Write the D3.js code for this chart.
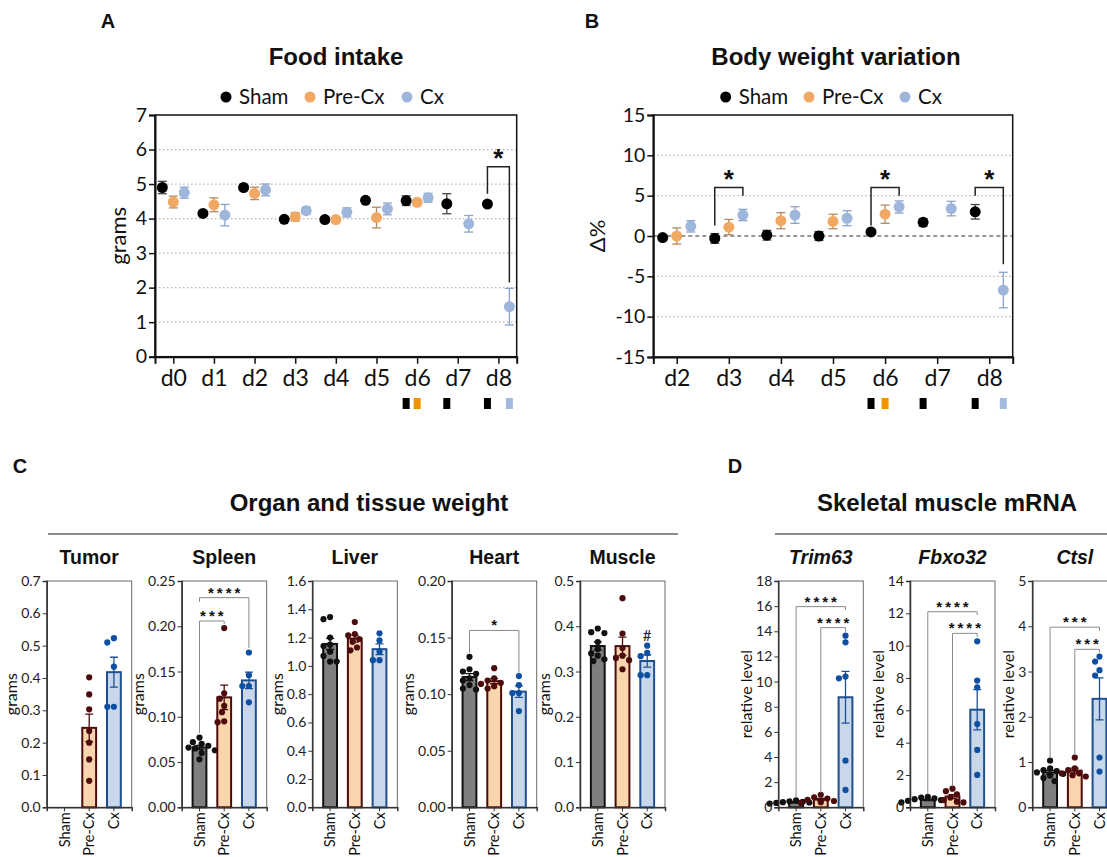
<!DOCTYPE html>
<html>
<head>
<meta charset="utf-8">
<script src="https://cdn.jsdelivr.net/npm/d3@7"></script>
<style>
  body { margin: 0; background: #fff; }
  svg { display: block; font-family: Lato, 'Open Sans', sans-serif; }
  .hd { font-family: 'Liberation Sans', Arial, sans-serif; font-weight: bold; fill: #111; }
</style>
</head>
<body>
<svg></svg>
<script>
// ---------- data ----------
const groups = ['Sham', 'Pre-Cx', 'Cx'];

// A: food intake (grams), mean and SEM per day
const foodDays = ['d0', 'd1', 'd2', 'd3', 'd4', 'd5', 'd6', 'd7', 'd8'];
const foodSham = [4.9, 4.15, 4.9, 3.98, 3.97, 4.53, 4.52, 4.43, 4.42];
const foodShamErr = [0.18, 0.05, 0.05, 0.06, 0.07, 0.07, 0.14, 0.29, 0.06];
const foodPre = [4.48, 4.4, 4.73, 4.05, 3.97, 4.03, 4.47, null, null];
const foodPreErr = [0.17, 0.2, 0.18, 0.12, 0.04, 0.3, 0.06, null, null];
const foodCx = [4.75, 4.1, 4.83, 4.23, 4.18, 4.28, 4.6, 3.85, 1.45];
const foodCxErr = [0.16, 0.31, 0.17, 0.1, 0.13, 0.17, 0.13, 0.24, 0.53];
// [day, group1, group2, bracket level, leg1 end, leg2 end]
const foodBrackets = [['d8', 'Sham', 'Cx', 5.5, 4.72, 2.15]];
const foodMarks = [['d6', 'Sham'], ['d6', 'Pre-Cx'], ['d7', 'Sham'], ['d8', 'Sham'], ['d8', 'Cx']];

// B: body weight variation (%)
const weightDays = ['d2', 'd3', 'd4', 'd5', 'd6', 'd7', 'd8'];
const weightSham = [-0.2, -0.3, 0.1, 0.0, 0.5, 1.7, 3.0];
const weightShamErr = [0.3, 0.6, 0.6, 0.55, 0.25, 0.45, 0.9];
const weightPre = [0.0, 1.1, 1.9, 1.8, 2.7, null, null];
const weightPreErr = [1.0, 0.95, 1.0, 0.9, 1.13, null, null];
const weightCx = [1.2, 2.6, 2.6, 2.2, 3.6, 3.4, -6.7];
const weightCxErr = [0.7, 0.7, 1.03, 0.93, 0.75, 0.9, 2.2];
const weightBrackets = [
  ['d3', 'Sham', 'Cx', 6.0, 1.3, 5.0],
  ['d6', 'Sham', 'Cx', 6.0, 1.3, 5.0],
  ['d8', 'Sham', 'Cx', 6.0, 5.0, -3.5]
];
const weightMarks = foodMarks;

// C: organ and tissue weight (grams), one value per animal
const tumorSham = [];
const tumorPre = [0.402, 0.349, 0.303, 0.236, 0.2, 0.148, 0.082];
const tumorCx = [0.523, 0.51, 0.435, 0.311, 0.311];
const spleenSham = [0.077, 0.072, 0.07, 0.068, 0.066, 0.065, 0.063, 0.06, 0.053];
const spleenPre = [0.198, 0.126, 0.12, 0.112, 0.105, 0.095, 0.094];
const spleenCx = [0.171, 0.146, 0.134, 0.134, 0.116];
const liverSham = [1.345, 1.33, 1.2, 1.15, 1.14, 1.1, 1.07, 1.03, 1.03];
const liverPre = [1.31, 1.225, 1.215, 1.19, 1.17, 1.13, 1.11];
const liverCx = [1.23, 1.18, 1.1, 1.04, 1.04];
const heartSham = [0.133, 0.122, 0.12, 0.118, 0.114, 0.112, 0.108, 0.105, 0.104];
const heartPre = [0.123, 0.114, 0.112, 0.11, 0.109, 0.107, 0.105];
const heartCx = [0.116, 0.108, 0.101, 0.101, 0.085];
const muscleSham = [0.395, 0.387, 0.385, 0.365, 0.35, 0.34, 0.335, 0.327, 0.323];
const musclePre = [0.462, 0.384, 0.352, 0.335, 0.33, 0.325, 0.305];
const muscleCx = [0.357, 0.341, 0.334, 0.292, 0.292];

// D: skeletal muscle mRNA (relative level)
const trimSham = [0.55, 0.48, 0.44, 0.41, 0.38, 0.35, 0.33, 0.3, 0.27];
const trimPre = [1.0, 0.8, 0.7, 0.6, 0.5, 0.4, 0.35];
const trimCx = [13.65, 13.12, 10.4, 10.26, 3.71, 1.38];
const fbxSham = [0.65, 0.6, 0.55, 0.5, 0.45, 0.4, 0.35, 0.3, 0.3];
const fbxPre = [1.15, 1.0, 0.8, 0.6, 0.45, 0.35, 0.3];
const fbxCx = [10.27, 7.84, 7.42, 5.15, 3.55, 2.0];
const ctslSham = [1.03, 0.86, 0.82, 0.8, 0.77, 0.74, 0.7, 0.65, 0.58];
const ctslPre = [1.1, 0.86, 0.82, 0.75, 0.75, 0.71, 0.68];
const ctslCx = [3.33, 3.22, 3.03, 2.91, 1.1, 0.79];

// [group1, group2, level, leg1 end, leg2 end, label]
const spleenSig = [['Sham', 'Pre-Cx', 0.2058, 0.082, 0.2025, '***'], ['Sham', 'Cx', 0.2316, 0.2268, 0.176, '****']];
const heartSig = [['Sham', 'Cx', 0.1563, 0.1365, 0.1188, '*']];
const trimSig = [['Sham', 'Cx', 15.96, 0.75, 15.7, '****'], ['Pre-Cx', 'Cx', 14.29, 1.15, 13.97, '****']];
const fbxSig = [['Sham', 'Cx', 12.1, 0.8, 11.9, '****'], ['Pre-Cx', 'Cx', 10.76, 1.3, 10.56, '****']];
const ctslSig = [['Sham', 'Cx', 3.98, 1.08, 3.9, '***'], ['Pre-Cx', 'Cx', 3.49, 1.16, 3.42, '***']];

// ---------- styles ----------
const dotColor = { Sham: '#000', 'Pre-Cx': '#f0a862', Cx: '#9fb6dc' };
const errColor = { Sham: '#444', 'Pre-Cx': '#b08a66', Cx: '#8aa2cc' };
const markColor = { Sham: '#000', 'Pre-Cx': '#f39200', Cx: '#a4badf' };
const barFill = { Sham: '#7f7f7f', 'Pre-Cx': '#f8d5ad', Cx: '#c9d7eb' };
const barStroke = { Sham: '#111', 'Pre-Cx': '#4d0b0b', Cx: '#1f4f8f' };
const barDot = { Sham: '#111', 'Pre-Cx': '#4d0b0b', Cx: '#0d4fa0' };

const svg = d3.select('svg').attr('width', 1107).attr('height', 857);

function txt(x, y, s, size, cls, anchor) {
  return svg.append('text').attr('x', x).attr('y', y).attr('class', cls || null)
    .attr('text-anchor', anchor || 'middle').style('font-size', size + 'px').text(s);
}

// ---------- A / B : dot plots over days ----------
function dayPanel(o) {
  const x = d3.scalePoint().domain(o.days).range([o.left, o.right]).padding(0.45);
  const y = d3.scaleLinear().domain(o.yDomain).range([o.bottom, o.top]);
  const off = x.step() * 0.27;
  const gx = (day, grp) => x(day) + (grp === 'Sham' ? -off : grp === 'Cx' ? off : 0);
  const g = svg.append('g');

  g.selectAll('line.grid').data(o.grid).join('line')
    .attr('x1', o.left).attr('x2', o.right).attr('y1', y).attr('y2', y)
    .attr('stroke', '#b5b5b5').attr('stroke-width', 1.2).attr('stroke-dasharray', '1.5,2.5');
  if (o.zero) {
    g.append('line').attr('x1', o.left).attr('x2', o.right).attr('y1', y(0)).attr('y2', y(0))
      .attr('stroke', '#777').attr('stroke-width', 1.5).attr('stroke-dasharray', '4,3');
  }

  g.append('rect').attr('x', o.left).attr('y', o.top).attr('width', o.right - o.left)
    .attr('height', o.bottom - o.top).attr('fill', 'none').attr('stroke', '#111').attr('stroke-width', 1.5);

  const ya = g.append('g').attr('transform', `translate(${o.left},0)`)
    .call(d3.axisLeft(y).tickValues(o.yTicks).tickFormat((d) => String(d)).tickSize(6).tickPadding(2));
  const xa = g.append('g').attr('transform', `translate(0,${o.bottom})`)
    .call(d3.axisBottom(x).tickSize(7).tickPadding(6));
  [ya, xa].forEach((a) => {
    a.select('.domain').attr('stroke', '#111').attr('stroke-width', 2);
    a.selectAll('.tick line').attr('stroke', '#111').attr('stroke-width', 1.5);
    a.selectAll('text').attr('fill', '#111').style('font-family', 'Lato, sans-serif');
  });
  ya.selectAll('text').style('font-size', '19.5px');
  xa.selectAll('text').style('font-size', '23px');

  const bb = ya.node().getBBox();
  g.append('text').attr('transform', `translate(${o.left + bb.x - 10},${(o.top + o.bottom) / 2}) rotate(-90)`)
    .attr('text-anchor', 'middle').style('font-size', '22px').attr('fill', '#111').text(o.yLabel);

  o.series.forEach((s) => {
    const pts = o.days.map((d, i) => ({ day: d, m: s.mean[i], e: s.err[i] })).filter((p) => p.m != null);
    const sg = g.append('g');
    pts.forEach((p) => {
      const cx = gx(p.day, s.name);
      sg.append('line').attr('x1', cx).attr('x2', cx).attr('y1', y(p.m - p.e)).attr('y2', y(p.m + p.e))
        .attr('stroke', errColor[s.name]).attr('stroke-width', 1.3);
      [p.m - p.e, p.m + p.e].forEach((v) => {
        sg.append('line').attr('x1', cx - 4.5).attr('x2', cx + 4.5).attr('y1', y(v)).attr('y2', y(v))
          .attr('stroke', errColor[s.name]).attr('stroke-width', 1.3);
      });
    });
    sg.selectAll('circle').data(pts).join('circle')
      .attr('cx', (p) => gx(p.day, s.name)).attr('cy', (p) => y(p.m)).attr('r', 5.5)
      .attr('fill', dotColor[s.name]);
  });

  o.brackets.forEach(([day, a, b, lev, e1, e2]) => {
    const x1 = gx(day, a), x2 = gx(day, b);
    g.append('path').attr('d', `M${x1},${y(e1)}V${y(lev)}H${x2}V${y(e2)}`)
      .attr('fill', 'none').attr('stroke', '#222').attr('stroke-width', 1.5);
    g.append('text').attr('class', 'hd').attr('x', (x1 + x2) / 2).attr('y', y(lev))
      .attr('text-anchor', 'middle').style('font-size', '26px').text('*');
  });

  g.selectAll('rect.mark').data(o.marks).join('rect').attr('class', 'mark')
    .attr('x', (d) => gx(d[0], d[1]) - 3.5).attr('y', 398).attr('width', 7).attr('height', 11)
    .attr('fill', (d) => markColor[d[1]]);

  // legend
  groups.forEach((grp, i) => {
    const lx = o.legendX[i];
    g.append('circle').attr('cx', lx).attr('cy', 97).attr('r', 5.5).attr('fill', dotColor[grp]);
    g.append('text').attr('x', lx + 13).attr('y', 104).style('font-size', '20.5px').attr('fill', '#111').text(grp);
  });
}

dayPanel({
  days: foodDays, left: 155, right: 516.7, top: 115, bottom: 356.7,
  yDomain: [0, 7], yTicks: d3.range(0, 8), grid: [1, 2, 3, 4, 5, 6], zero: false,
  yLabel: 'grams', legendX: [226, 310, 407],
  series: [
    { name: 'Sham', mean: foodSham, err: foodShamErr },
    { name: 'Pre-Cx', mean: foodPre, err: foodPreErr },
    { name: 'Cx', mean: foodCx, err: foodCxErr }
  ],
  brackets: foodBrackets, marks: foodMarks
});

dayPanel({
  days: weightDays, left: 653.3, right: 1012.7, top: 115, bottom: 357,
  yDomain: [-15, 15], yTicks: d3.range(-15, 16, 5), grid: [-10, -5, 5, 10], zero: true,
  yLabel: 'Δ%', legendX: [725.7, 809, 905],
  series: [
    { name: 'Sham', mean: weightSham, err: weightShamErr },
    { name: 'Pre-Cx', mean: weightPre, err: weightPreErr },
    { name: 'Cx', mean: weightCx, err: weightCxErr }
  ],
  brackets: weightBrackets, marks: weightMarks
});

txt(108, 28, 'A', 20, 'hd');
txt(592, 28, 'B', 20, 'hd');
txt(336, 65, 'Food intake', 24, 'hd');
txt(836, 65, 'Body weight variation', 24, 'hd');

// ---------- C / D : bar + scatter panels ----------
const pTop = 581, pBottom = 807.3, pWidth = 85;

function swarm(vals, y, r) {
  const pts = vals.map((v) => ({ v, py: y(v) })).sort((a, b) => a.py - b.py);
  const placed = [];
  pts.forEach((p) => {
    for (let k = 0; k < 30; k++) {
      const dx = k === 0 ? 0 : (k % 2 ? -1 : 1) * Math.ceil(k / 2) * 2.2;
      if (placed.every((q) => Math.hypot(q.dx - dx, q.py - p.py) >= 2 * r + 0.4)) { p.dx = dx; break; }
    }
    if (p.dx == null) p.dx = 0;
    placed.push(p);
  });
  return pts;
}

function barPanel(o) {
  const y = d3.scaleLinear().domain([0, o.max]).range([pBottom, pTop]);
  const x = d3.scaleBand().domain(groups).range([o.left, o.left + pWidth]).paddingInner(0.36).paddingOuter(0.4);
  const bw = x.bandwidth();
  const g = svg.append('g');

  g.append('rect').attr('x', o.left).attr('y', pTop).attr('width', pWidth).attr('height', pBottom - pTop)
    .attr('fill', 'none').attr('stroke', '#6a6a6a').attr('stroke-width', 1);

  groups.forEach((grp, i) => {
    const vals = o.data[i];
    if (!vals.length) return;
    const m = d3.mean(vals);
    const se = d3.deviation(vals) / Math.sqrt(vals.length);
    const cx = x(grp) + bw / 2;
    g.append('rect').attr('x', x(grp) + 1).attr('width', bw - 2).attr('y', y(m)).attr('height', y(0) - y(m))
      .attr('fill', barFill[grp]).attr('stroke', barStroke[grp]).attr('stroke-width', 2);
    g.append('path').attr('d', `M${cx},${y(m - se)}V${y(m + se)}M${cx - 4},${y(m + se)}H${cx + 4}M${cx - 4},${y(m - se)}H${cx + 4}`)
      .attr('stroke', barStroke[grp]).attr('stroke-width', 1.3).attr('fill', 'none');
    g.selectAll(null).data(swarm(vals, y, 3.1)).join('circle')
      .attr('cx', (p) => cx + p.dx).attr('cy', (p) => p.py).attr('r', 3.1).attr('fill', barDot[grp]);
  });

  const ya = g.append('g').attr('transform', `translate(${o.left},0)`)
    .call(d3.axisLeft(y).tickValues(o.ticks).tickFormat(d3.format(o.fmt)).tickSize(4).tickPadding(2));
  const xa = g.append('g').attr('transform', `translate(0,${pBottom})`)
    .call(d3.axisBottom(x).tickSize(4).tickFormat(''));
  [ya, xa].forEach((a) => {
    a.select('.domain').attr('stroke', '#333').attr('stroke-width', 1.5);
    a.selectAll('.tick line').attr('stroke', '#333');
  });
  ya.selectAll('text').attr('fill', '#222').style('font-size', '14px').style('font-family', 'Lato, sans-serif');

  groups.forEach((grp) => {
    g.append('text').attr('transform', `translate(${x(grp) + bw / 2},${pBottom + 5}) rotate(-90)`)
      .attr('text-anchor', 'end').attr('dy', '0.35em').style('font-size', '14.5px').attr('fill', '#111').text(grp);
  });

  const bb = ya.node().getBBox();
  g.append('text').attr('transform', `translate(${o.left + bb.x - 4},${(pTop + pBottom) / 2}) rotate(-90)`)
    .attr('text-anchor', 'middle').style('font-size', '16px').attr('fill', '#111').text(o.yLabel);

  g.append('text').attr('class', 'hd').attr('x', o.left + pWidth / 2).attr('y', 564)
    .attr('text-anchor', 'middle').style('font-size', '19.5px').style('font-style', o.italic ? 'italic' : 'normal')
    .text(o.title);

  (o.sig || []).forEach(([a, b, lev, e1, e2, label]) => {
    const x1 = x(a) + bw / 2, x2 = x(b) + bw / 2;
    g.append('path').attr('d', `M${x1},${y(e1)}V${y(lev)}H${x2}V${y(e2)}`)
      .attr('fill', 'none').attr('stroke', '#8a8a8a').attr('stroke-width', 1);
    g.append('text').attr('class', 'hd').attr('x', (x1 + x2) / 2 + 1.5).attr('y', y(lev))
      .attr('text-anchor', 'middle').style('font-size', '15px').style('letter-spacing', '3px').text(label);
  });

  if (o.hash) {
    g.append('text').attr('x', x(o.hash[0]) + bw / 2).attr('y', y(o.hash[1]) + 5)
      .attr('text-anchor', 'middle').style('font-size', '15px').attr('fill', '#222').text('#');
  }
}

barPanel({ left: 46.7, max: 0.7, ticks: d3.range(0, 0.71, 0.1), fmt: '.1f', title: 'Tumor', yLabel: 'grams', data: [tumorSham, tumorPre, tumorCx] });
barPanel({ left: 181.7, max: 0.25, ticks: d3.range(0, 0.251, 0.05), fmt: '.2f', title: 'Spleen', yLabel: 'grams', data: [spleenSham, spleenPre, spleenCx], sig: spleenSig });
barPanel({ left: 312.3, max: 1.6, ticks: d3.range(0, 1.61, 0.2), fmt: '.1f', title: 'Liver', yLabel: 'grams', data: [liverSham, liverPre, liverCx] });
barPanel({ left: 451.7, max: 0.2, ticks: d3.range(0, 0.201, 0.05), fmt: '.2f', title: 'Heart', yLabel: 'grams', data: [heartSham, heartPre, heartCx], sig: heartSig });
barPanel({ left: 580, max: 0.5, ticks: d3.range(0, 0.51, 0.1), fmt: '.1f', title: 'Muscle', yLabel: 'grams', data: [muscleSham, musclePre, muscleCx], hash: ['Cx', 0.378] });

barPanel({ left: 778.3, max: 18, ticks: d3.range(0, 19, 2), fmt: 'd', title: 'Trim63', italic: true, yLabel: 'relative level', data: [trimSham, trimPre, trimCx], sig: trimSig });
barPanel({ left: 910, max: 14, ticks: d3.range(0, 15, 2), fmt: 'd', title: 'Fbxo32', italic: true, yLabel: 'relative level', data: [fbxSham, fbxPre, fbxCx], sig: fbxSig });
barPanel({ left: 1032.3, max: 5, ticks: d3.range(0, 6, 1), fmt: 'd', title: 'Ctsl', italic: true, yLabel: 'relative level', data: [ctslSham, ctslPre, ctslCx], sig: ctslSig });

txt(20, 473, 'C', 20, 'hd');
txt(735, 473, 'D', 20, 'hd');
txt(369, 511, 'Organ and tissue weight', 24, 'hd');
txt(947, 511, 'Skeletal muscle mRNA', 24, 'hd');
svg.append('line').attr('x1', 48).attr('x2', 678).attr('y1', 534).attr('y2', 534).attr('stroke', '#8a8a8a').attr('stroke-width', 2);
svg.append('line').attr('x1', 775).attr('x2', 1107).attr('y1', 534).attr('y2', 534).attr('stroke', '#8a8a8a').attr('stroke-width', 2);
</script>
</body>
</html>
